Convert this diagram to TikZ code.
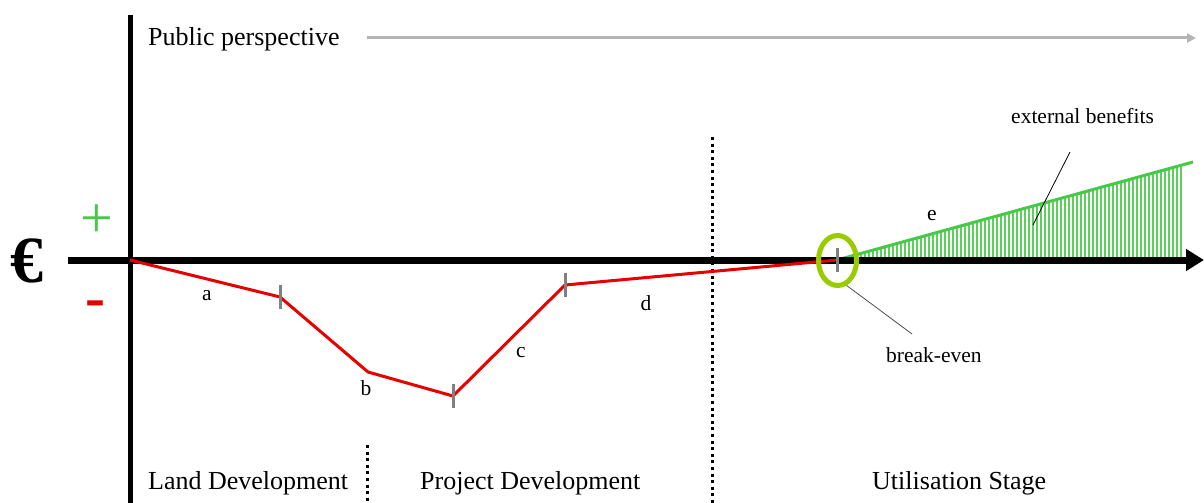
\documentclass[tikz,border=0pt]{standalone}
\usepackage{fontspec}
\setmainfont{Liberation Serif}
\usetikzlibrary{arrows.meta,positioning,calc,shapes.geometric}
\definecolor{costred}{HTML}{E60000}
\definecolor{benefitgreen}{HTML}{48C848}
\definecolor{hatchgreen}{HTML}{5AD25A}
\definecolor{ringgreen}{HTML}{99CC00}
\definecolor{tickgray}{HTML}{808080}
\definecolor{headgray}{HTML}{B4B4B4}

\begin{document}
\begin{tikzpicture}[x=1pt, y=-1pt,
  big/.style={font=\fontsize{26}{30}\selectfont, inner sep=0pt},
  small/.style={font=\fontsize{21.5}{24}\selectfont, inner sep=0pt},
  costtick/.style={tickgray, line width=3pt},
  divider/.style={line width=3pt, dash pattern=on 3pt off 3.6pt},
  pointer/.style={black!70, line width=0.8pt}
]
  \useasboundingbox (0,0) rectangle (1204,503);

  % points of the cash flow curve
  \coordinate (o) at (130,260);
  \coordinate (k1) at (280,297);
  \coordinate (k2) at (368,372);
  \coordinate (k3) at (453,396);
  \coordinate (k4) at (565,285);
  \coordinate (be) at (837,260);
  \coordinate (top) at (1193,162);

  % hatched area of external benefits
  \foreach \x in {849,853,...,1183}
    \draw[hatchgreen, line width=1.2pt] (\x,260) -- (\x,{260-0.2737*(\x-835)});
  \draw[benefitgreen, line width=3pt] (be) -- (top);

  % axes
  \draw[line width=5pt] (130,15) -- (130,503);
  \draw[line width=7pt, -{Triangle[length=18pt, width=21pt]}] (68,260) -- (1204,260);

  % dividers
  \draw[divider] (712,137) -- (712,503);
  \draw[divider] (367,445) -- (367,503);

  % cost curve
  \draw[costred, line width=3pt, line join=round] (o) -- (k1) -- (k2) -- (k3) -- (k4) -- (be);
  \foreach \p in {k1,k3,k4,be}
    \draw[costtick] ($(\p)+(0,-12)$) -- ($(\p)+(0,12)$);

  % break-even ring
  \node[ellipse, draw=ringgreen, line width=5pt, minimum width=38pt, minimum height=50pt] (ring) at (837.5,260.5) {};

  % signs
  \node[font=\fontsize{66}{66}\selectfont\bfseries, inner sep=0pt] (euro) at (27,261) {€};
  \node[font=\fontsize{58}{58}\selectfont, text=benefitgreen, inner sep=0pt] (plus) at (97,221) {+};
  \node[font=\fontsize{60}{60}\selectfont\bfseries, text=costred, inner sep=0pt] (minus) at (95,309) {-};

  % header
  \node[big, anchor=base west] (pub) at (148,46) {Public perspective};
  \draw[headgray, line width=3pt, -{Triangle[length=9pt, width=9pt]}] (367,38) -- (1196,38);

  % segment labels
  \node[small] (la) at (207,296) {a};
  \node[small] (lb) at (366,388) {b};
  \node[small] (lc) at (521,353) {c};
  \node[small] (ld) at (646,303) {d};
  \node[small] (le) at (932,216) {e};

  % annotations
  \node[small, anchor=base west] (bel) at (886,362) {break-even};
  \draw[pointer] (ring.-70) -- (912,334);
  \node[small, anchor=base west] (eb) at (1011,123) {external benefits};
  \coordinate (ebstart) at (1070,152);
  \coordinate (ebend) at (1033,225);
  \draw[pointer, black] (ebstart) -- (ebend);

  % stages
  \node[big, anchor=base west] (land) at (148,489) {Land Development};
  \node[big, anchor=base west] (proj) at (420,489) {Project Development};
  \node[big, anchor=base west] (util) at (872,489) {Utilisation Stage};
\end{tikzpicture}
\end{document}
